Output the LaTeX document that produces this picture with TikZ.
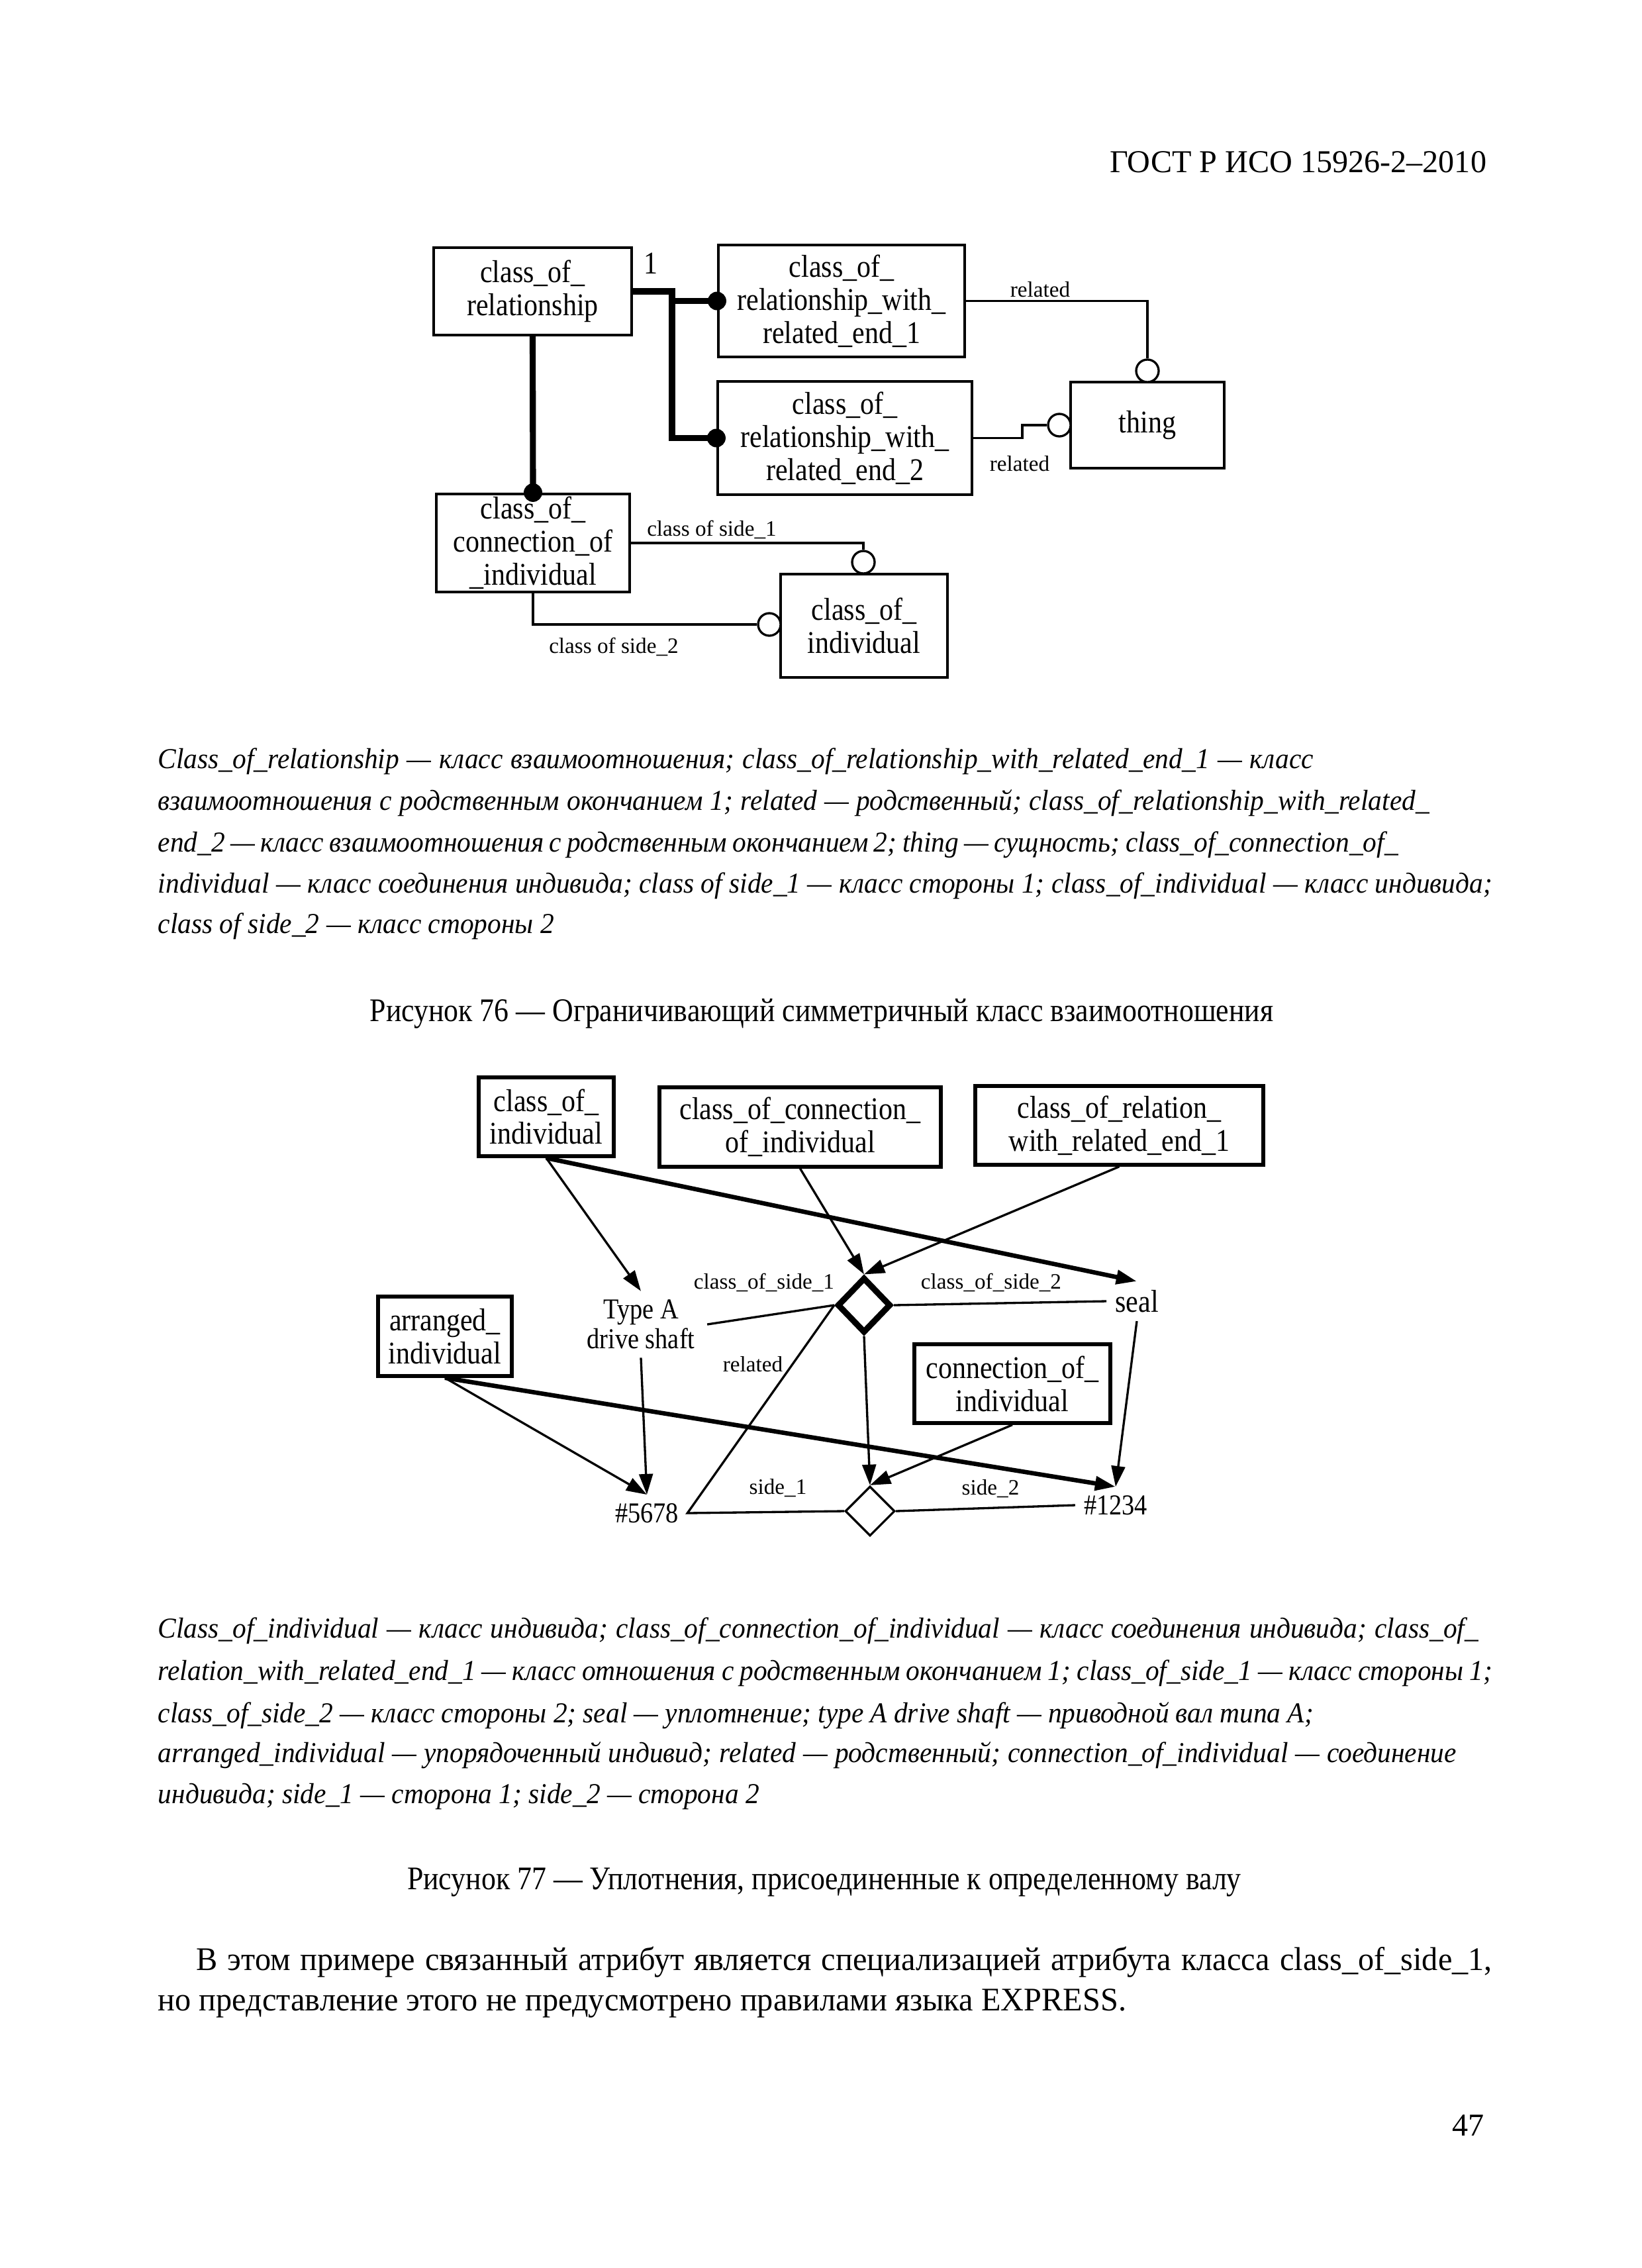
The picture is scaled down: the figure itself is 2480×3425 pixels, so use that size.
\documentclass[tikz,border=0pt]{standalone}
\usepackage{fontspec}
\setmainfont{Liberation Serif}
\newfontfamily\dg[FakeStretch=0.88]{Liberation Serif}
\newfontfamily\lgd[FakeStretch=0.95]{Liberation Serif}
\newfontfamily\bdf[FakeStretch=0.97]{Liberation Serif}
\usetikzlibrary{arrows.meta,shapes.geometric}
\newdimen\pxlen
\pxlen=0.084667mm
\newcommand\fitline[2]{\makebox[#1\pxlen][s]{#2}}
\begin{document}
\begin{tikzpicture}[x=0.084667mm,y=-0.084667mm,
  box/.style={draw,line width=1pt,inner sep=0pt,align=center,font=\fontsize{11.5}{12}\dg},
  boxb/.style={box,line width=1.3pt},
  lbl/.style={inner sep=0pt,font=\fontsize{8}{9}\selectfont},
  txt/.style={inner sep=3pt,align=center,font=\fontsize{10.5}{10.8}\dg},
  thn/.style={line width=0.8pt},
  thk/.style={line width=2.2pt},
  blackdot/.style={circle,fill,inner sep=0pt,minimum size=28*\pxlen},
  ocirc/.style={circle,draw,fill=white,line width=0.8pt,inner sep=0pt,minimum size=34*\pxlen},
  arr/.style={line width=0.8pt,-{Triangle[length=7.5pt,width=5pt]}},
  arrk/.style={line width=1.6pt,-{Triangle[length=7.5pt,width=5pt]}},
  legend/.style={anchor=base west,inner sep=0pt,font=\fontsize{10.5}{12}\lgd\itshape},
  body/.style={inner sep=0pt,font=\fontsize{12}{14}\bdf},
  capt/.style={inner sep=0pt,font=\fontsize{12}{14}\dg},
  dmd/.style={diamond,draw,inner sep=0pt}
]
\useasboundingbox (0,0) rectangle (2480,3425);
\fill[white] (0,0) rectangle (2480,3425);

% header
\node[inner sep=0pt,font=\fontsize{11.6}{14}\selectfont,anchor=base east] (hdr) at (2246,260) {ГОСТ Р ИСО 15926-2–2010};

% ---------- Figure 76 ----------
\node[box,minimum width=299*\pxlen,minimum height=132*\pxlen] (cor) at (804.5,440) {class\_of\_\\relationship};
\node[box,minimum width=372*\pxlen,minimum height=169*\pxlen] (e1) at (1271,454.5) {class\_of\_\\relationship\_with\_\\related\_end\_1};
\node[box,minimum width=384*\pxlen,minimum height=171*\pxlen] (e2) at (1276,661.5) {class\_of\_\\relationship\_with\_\\related\_end\_2};
\node[box,minimum width=232*\pxlen,minimum height=130*\pxlen] (thing) at (1733,642) {thing};
\node[box,minimum width=292*\pxlen,minimum height=148*\pxlen] (coc) at (805,820) {class\_of\_\\connection\_of\\\_individual};
\node[box,minimum width=252*\pxlen,minimum height=156*\pxlen] (coi) at (1305,945) {class\_of\_\\individual};

\coordinate (jn) at (1015,440);
\draw[thk] (cor.east) -- (jn) |- (e2.west);
\draw[thk] (jn |- e1.west) -- (e1.west);
\draw[thk] (cor.south) -- (coc.north);
\node[blackdot] (bd1) at (e1.west) {};
\node[blackdot] (bd2) at (e2.west) {};
\node[blackdot] (bd3) at (coc.north) {};
\node[inner sep=0pt,font=\fontsize{11.5}{12}\dg] (one) at (983,398) {1};

\node[ocirc] (oc1) at (1733,560) {};
\draw[thn] (e1.east) -| (oc1.north);
\node[lbl] (rl1) at (1571,437) {related};

\node[ocirc] (oc2) at (1600,642) {};
\coordinate (k2) at (1544,661.5);
\draw[thn] (e2.east) -- (k2) |- (oc2.west);
\node[lbl] (rl2) at (1540,700) {related};

\node[ocirc] (oc3) at (1304,849) {};
\draw[thn] (coc.east) -| (oc3.north);
\node[lbl] (cs1) at (1075,800) {class of side\_1};

\node[ocirc] (oc4) at (1162,943) {};
\draw[thn] (coc.south) |- (oc4.west);
\node[lbl] (cs2) at (927,977) {class of side\_2};

% legend 76
\node[legend] (la1) at (238,1160) {\fitline{1745}{Class\_of\_relationship — класс взаимоотношения; class\_of\_relationship\_with\_related\_end\_1 — класс}};
\node[legend] (la2) at (238,1223) {\fitline{1920}{взаимоотношения с родственным окончанием 1; related — родственный; class\_of\_relationship\_with\_related\_}};
\node[legend] (la3) at (238,1286) {\fitline{1873}{end\_2 — класс взаимоотношения с родственным окончанием 2; thing — сущность; class\_of\_connection\_of\_}};
\node[legend] (la4) at (238,1348) {\fitline{2015}{individual — класс соединения индивида; class of side\_1 — класс стороны 1; class\_of\_individual — класс индивида;}};
\node[legend] (la5) at (238,1409) {class of side\_2 — класс стороны 2};

\node[capt,anchor=base] (cap76) at (1241,1542) {Рисунок 76 — Ограничивающий симметричный класс взаимоотношения};

% ---------- Figure 77 ----------
\node[boxb,minimum width=204*\pxlen,minimum height=119*\pxlen] (ci) at (825,1686.5) {class\_of\_\\individual};
\node[boxb,minimum width=425*\pxlen,minimum height=120*\pxlen] (ccoi) at (1208.5,1702) {class\_of\_connection\_\\of\_individual};
\node[boxb,minimum width=435*\pxlen,minimum height=119*\pxlen] (crw) at (1690.5,1699.5) {class\_of\_relation\_\\with\_related\_end\_1};
\node[boxb,minimum width=202*\pxlen,minimum height=120*\pxlen] (ai) at (672,2018) {arranged\_\\individual};
\node[boxb,minimum width=296*\pxlen,minimum height=119*\pxlen] (coi2) at (1529,2089.5) {connection\_of\_\\individual};
\node[txt,inner xsep=4.3pt] (ta) at (968,2000) {Type A\\drive shaft};
\node[txt,font=\fontsize{11.5}{12}\dg] (seal) at (1717,1965) {seal};
\node[txt] (n5678) at (977,2285) {\#5678};
\node[txt] (n1234) at (1685,2273) {\#1234};
\node[dmd,line width=2.2pt,minimum width=81*\pxlen,minimum height=84*\pxlen] (dk) at (1305,1971) {};
\node[dmd,line width=0.8pt,minimum width=75*\pxlen,minimum height=75*\pxlen] (dn) at (1314,2282) {};

\draw[arr] (ci.south) -- (ta.north);
\draw[arrk] (ci.south) -- (seal.north);
\draw[arr] (ccoi.south) -- (dk.north);
\draw[arr] (crw.south) -- (dk.north);
\draw[thn] (ta.east) -- (dk.west);
\draw[thn] (dk.east) -- (seal.west);
\draw[thn] (dk.west) -- (n5678.east) -- (dn.west);
\draw[thn] (dn.east) -- (n1234.west);
\draw[arr] (dk.south) -- (dn.north);
\draw[arr] (coi2.south) -- (dn.north);
\draw[arr] (seal.south) -- (n1234.north);
\draw[arrk] (ai.south) -- (n1234.north);
\draw[arr] (ai.south) -- (n5678.north);
\draw[arr] (ta.south) -- (n5678.north);

\node[lbl] (cs1b) at (1154,1937) {class\_of\_side\_1};
\node[lbl] (cs2b) at (1497,1937) {class\_of\_side\_2};
\node[lbl] (relb) at (1137,2060) {related};
\node[lbl] (sd1) at (1175,2247) {side\_1};
\node[lbl] (sd2) at (1496,2248) {side\_2};

% legend 77
\node[legend] (lb1) at (238,2473) {\fitline{1994}{Class\_of\_individual — класс индивида; class\_of\_connection\_of\_individual — класс соединения индивида; class\_of\_}};
\node[legend] (lb2) at (238,2537) {\fitline{2015}{relation\_with\_related\_end\_1 — класс отношения с родственным окончанием 1; class\_of\_side\_1 — класс стороны 1;}};
\node[legend] (lb3) at (238,2601) {\fitline{1745}{class\_of\_side\_2 — класс стороны 2; seal — уплотнение; type A drive shaft — приводной вал типа А;}};
\node[legend] (lb4) at (238,2661) {\fitline{1961}{arranged\_individual — упорядоченный индивид; related — родственный; connection\_of\_individual — соединение}};
\node[legend] (lb5) at (238,2723) {индивида; side\_1 — сторона 1; side\_2 — сторона 2};

\node[capt,anchor=base] (cap77) at (1245,2853) {Рисунок 77 — Уплотнения, присоединенные к определенному валу};

% body text
\node[body,anchor=base west] (bt1) at (296,2975) {\fitline{1957}{В этом примере связанный атрибут является специализацией атрибута класса class\_of\_side\_1,}};
\node[body,anchor=base west] (bt2) at (238,3036) {но представление этого не предусмотрено правилами языка EXPRESS.};

\node[inner sep=0pt,font=\fontsize{11.6}{14}\selectfont,anchor=base east] (pg) at (2242,3225) {47};
\end{tikzpicture}
\end{document}
